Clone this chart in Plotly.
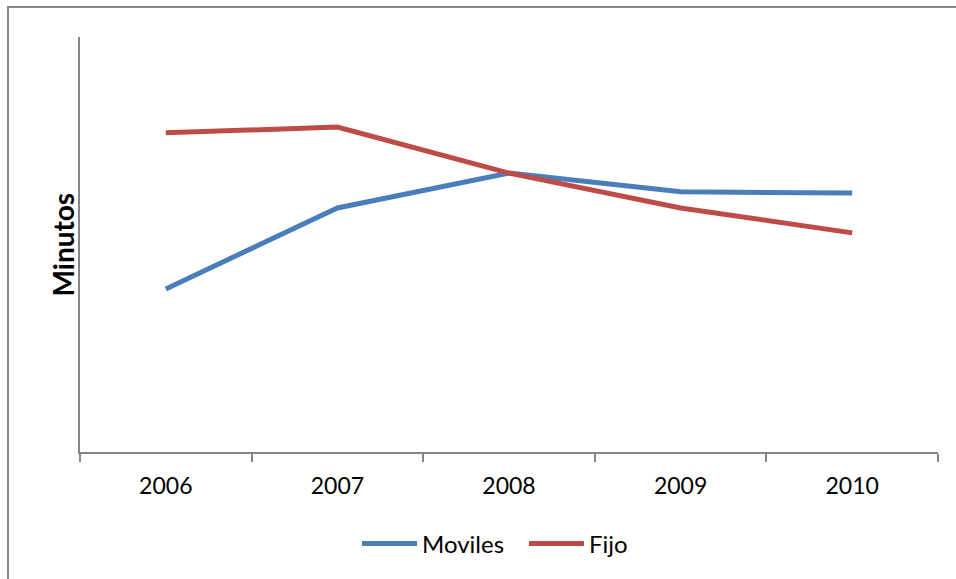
import plotly.graph_objects as go

# Annual traffic, minutes (relative index, axis unlabelled)
years = ["2006", "2007", "2008", "2009", "2010"]
moviles = [39.3, 58.8, 67.2, 62.7, 62.4]
fijo = [76.9, 78.3, 67.2, 58.8, 52.8]

BLUE = "#4A7EBB"
RED = "#BE4B48"
AXIS = "#868686"
FONT = "Lato"

W, H = 956, 579
L, R, T, B = 80, 18, 37, 127
plot_w = W - L - R
plot_h = H - T - B

fig = go.Figure()
fig.add_trace(go.Scatter(x=years, y=moviles, name="Moviles", mode="lines",
                         line=dict(color=BLUE, width=5), legendwidth=97))
fig.add_trace(go.Scatter(x=years, y=fijo, name="Fijo", mode="lines",
                         line=dict(color=RED, width=5)))

# pixel -> paper coordinate helpers
px = lambda p: (p - L) / plot_w
py = lambda p: (H - B - p) / plot_h

# outer frame of the chart object (left and top edges visible)
fig.add_shape(type="rect", xref="paper", yref="paper",
              x0=px(8), x1=px(W + 20), y0=py(H + 20), y1=py(7),
              line=dict(color="#888888", width=2), fillcolor="rgba(0,0,0,0)")

# vertical axis title
fig.add_annotation(text="<b>Minutos</b>", xref="paper", yref="paper",
                   x=px(62), y=0.5, xanchor="center", yanchor="middle",
                   textangle=-90, showarrow=False,
                   font=dict(family=FONT, size=28, color="black"))

fig.update_layout(
    width=W, height=H,
    margin=dict(l=L, r=R, t=T, b=B, pad=0),
    paper_bgcolor="white", plot_bgcolor="white",
    font=dict(family=FONT, size=16, color="black"),
    showlegend=True,
    legend=dict(orientation="h", x=px(357), xanchor="left",
                y=py(544), yanchor="middle",
                font=dict(family=FONT, size=24, color="black"),
                itemwidth=55, tracegroupgap=0),
    xaxis=dict(type="category", range=[-0.5, 4.5],
               showline=True, linecolor=AXIS, linewidth=1.5,
               ticks="outside", tickson="boundaries", ticklen=8,
               tickcolor=AXIS, tickwidth=1.5,
               showgrid=False, zeroline=False,
               tickfont=dict(family=FONT, size=23, color="black"),
               ticklabelstandoff=13),
    yaxis=dict(range=[0, 100], showline=True, linecolor=AXIS, linewidth=1.5,
               showticklabels=False, ticks="", showgrid=False, zeroline=False),
)

fig.write_html("out.html")
